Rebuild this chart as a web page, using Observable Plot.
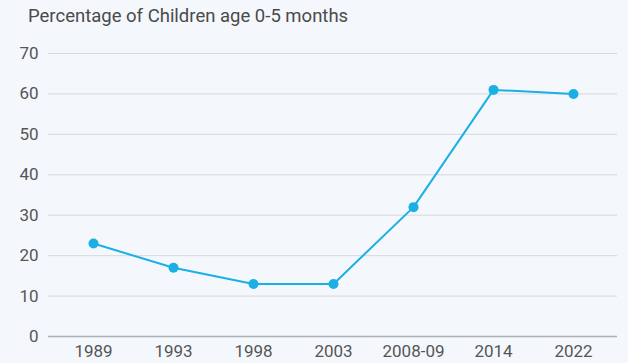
<!DOCTYPE html>
<html>
<head>
<meta charset="utf-8">
<script src="https://cdn.jsdelivr.net/npm/d3@7"></script>
<script src="https://cdn.jsdelivr.net/npm/@observablehq/plot@0.6"></script>
<style>
  html, body { margin: 0; padding: 0; background: #f4f8fc; }
  body { width: 628px; height: 363px; overflow: hidden; font-family: Roboto, "Noto Sans", sans-serif; }
  #title { height: 36px; box-sizing: border-box; padding: 5px 0 0 28px; font-size: 18.5px; line-height: 22px; color: #4a4a4a; }
</style>
</head>
<body>
<div id="title">Percentage of Children age 0-5 months</div>
<div id="chart"></div>
<script>
const years = ["1989", "1993", "1998", "2003", "2008-09", "2014", "2022"];
const values = [23, 17, 13, 13, 32, 61, 60];
const yTicks = [0, 10, 20, 30, 40, 50, 60, 70];

const data = years.map((y, i) => ({year: y, value: values[i]}));

const chart = Plot.plot({
  width: 628,
  height: 327,
  marginTop: 17,
  marginBottom: 27,
  marginLeft: 48,
  marginRight: 11,
  style: {background: "transparent", fontFamily: "Roboto, sans-serif", fontSize: "17px", color: "#555"},
  x: {type: "point", domain: years, padding: 0.52, label: null},
  y: {domain: [0, 70], ticks: yTicks, label: null},
  marks: [
    Plot.gridY(yTicks.filter(d => d > 0), {stroke: "#d5d9de", strokeOpacity: 1, strokeWidth: 1}),
    Plot.ruleY([0], {stroke: "#aab0b6", strokeWidth: 1.5}),
    Plot.axisY({ticks: yTicks, tickSize: 0, tickPadding: 10, fontSize: 17, fill: "#555"}),
    Plot.axisX({tickSize: 0, tickPadding: 8, fontSize: 17, fill: "#555"}),
    Plot.line(data, {x: "year", y: "value", stroke: "#1ab0e6", strokeWidth: 2}),
    Plot.dot(data, {x: "year", y: "value", fill: "#1ab0e6", r: 5})
  ]
});
document.getElementById("chart").appendChild(chart);
</script>
</body>
</html>
